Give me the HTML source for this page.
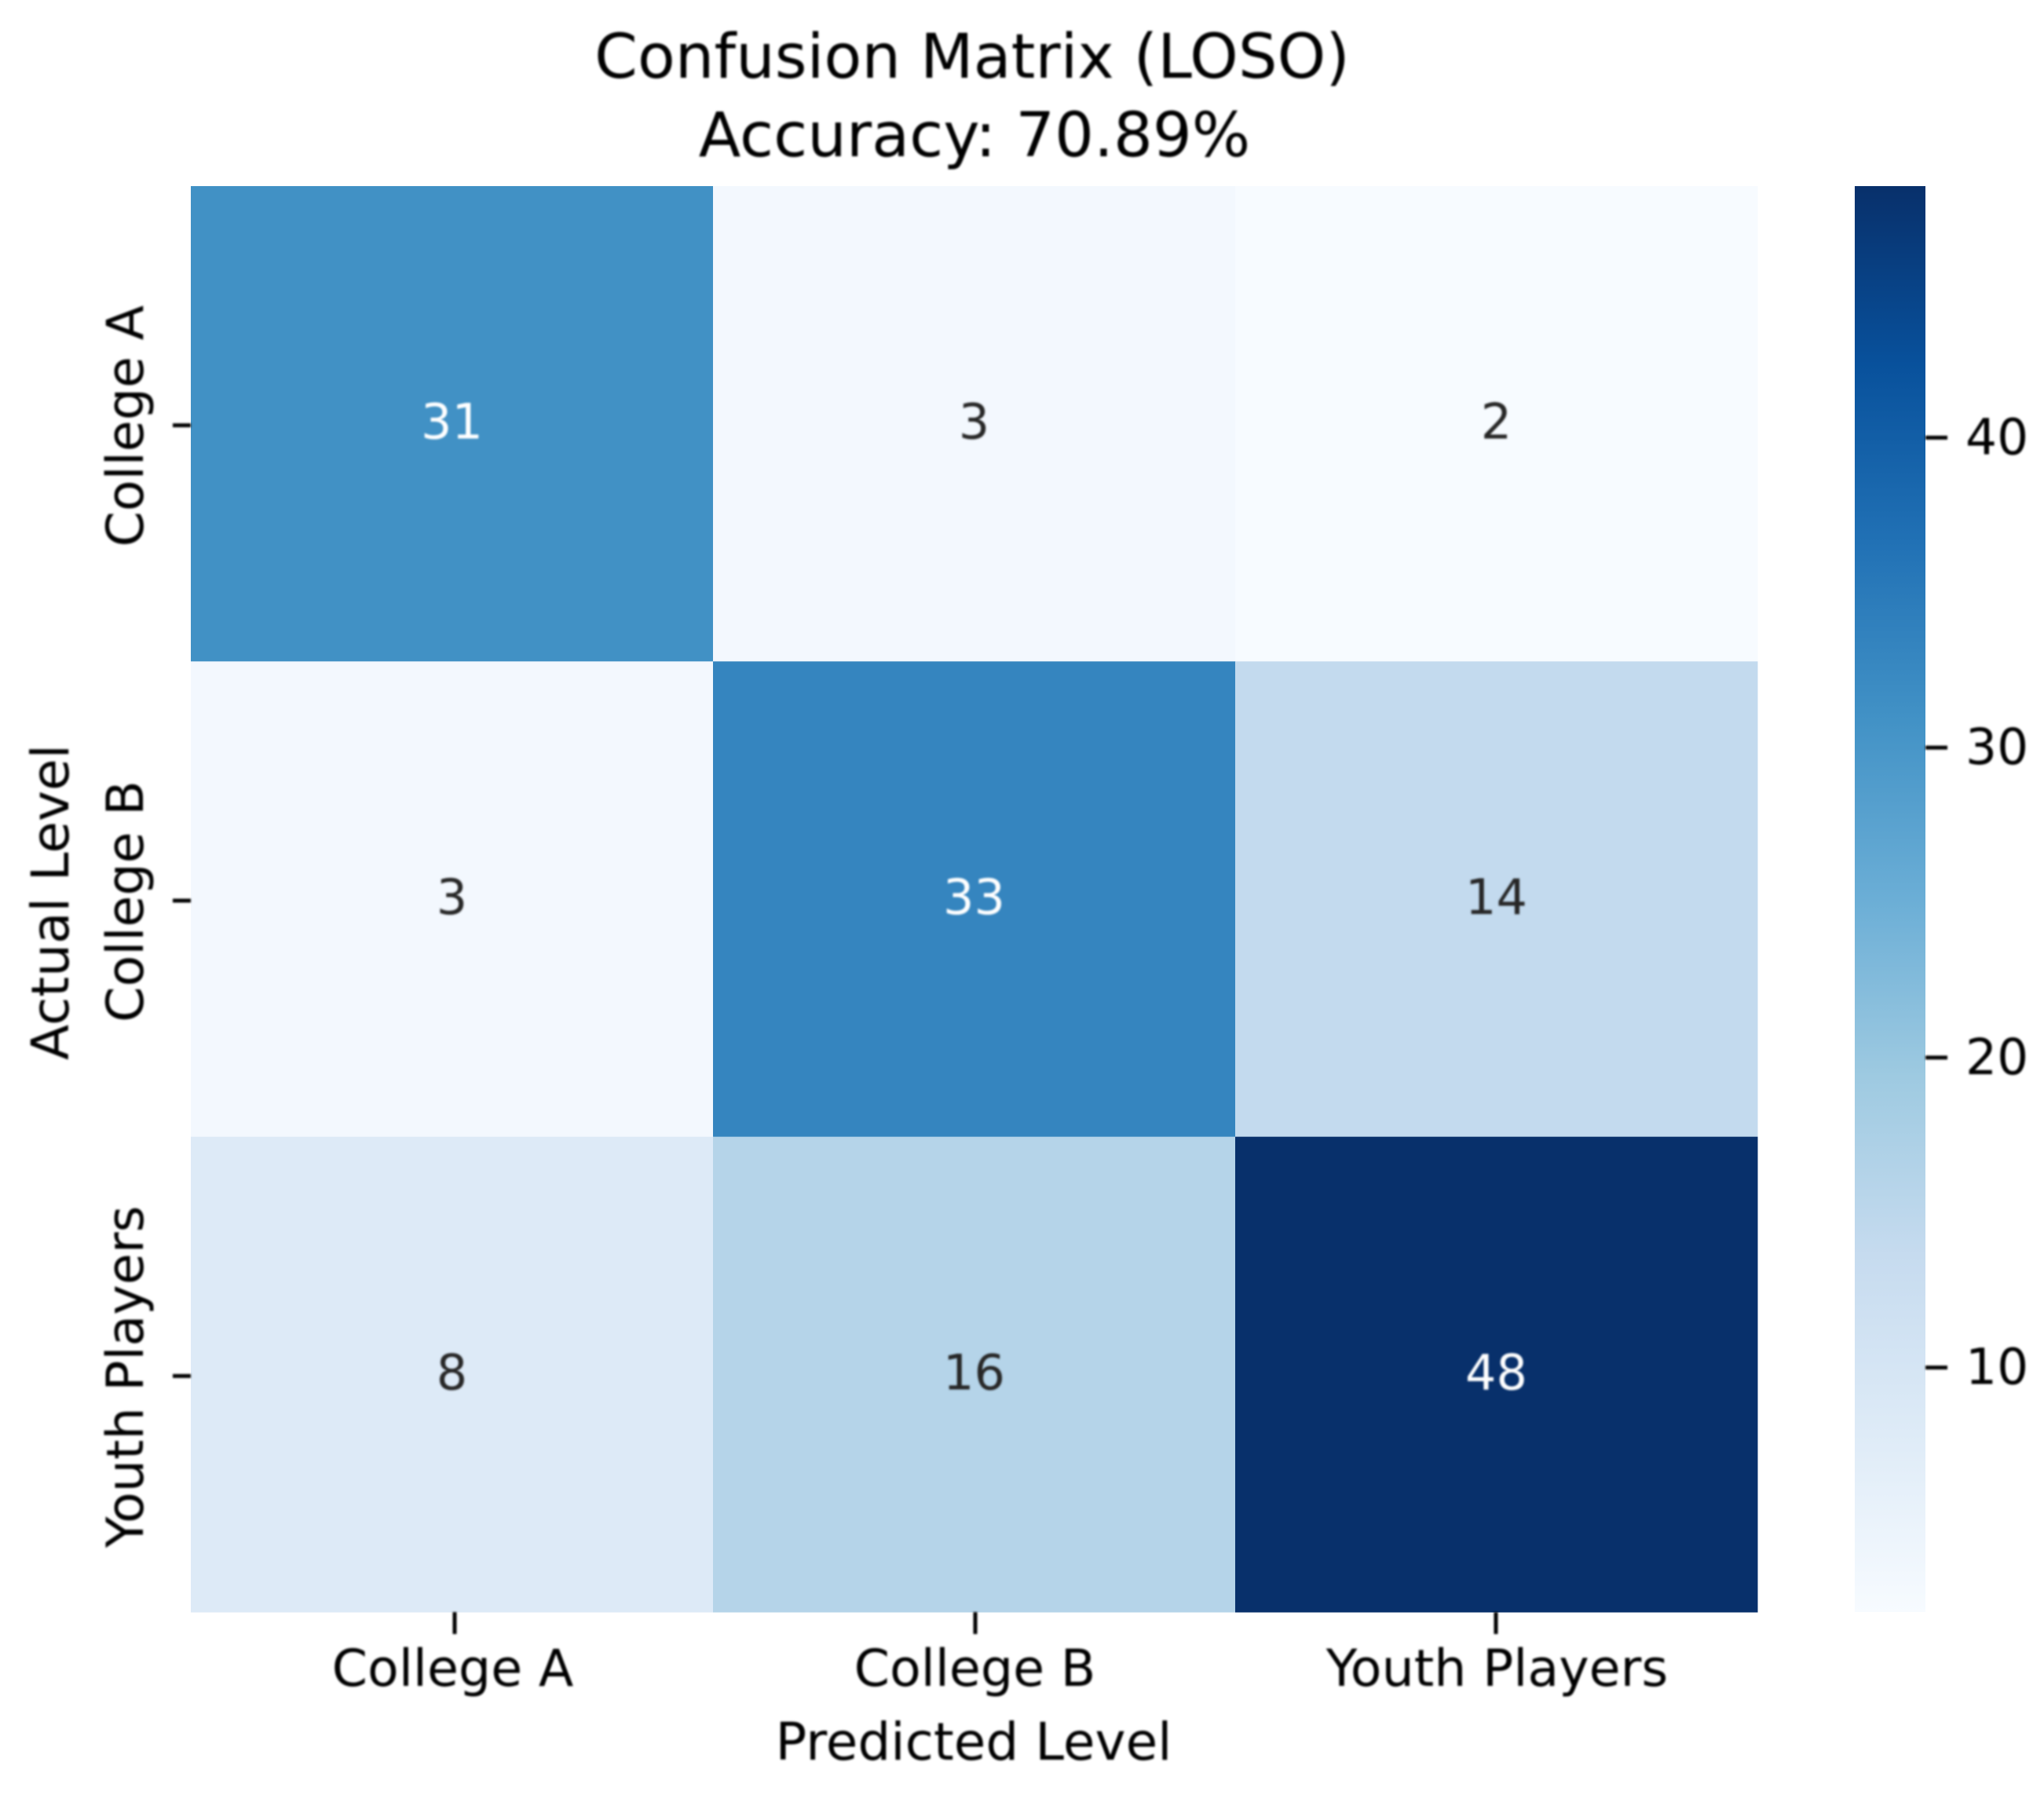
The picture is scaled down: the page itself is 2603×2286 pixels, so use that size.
<!DOCTYPE html>
<html lang="en">
<head>
<meta charset="utf-8">
<title>Confusion Matrix (LOSO)</title>
<style>
html,body{margin:0;padding:0;background:#fff;width:2603px;height:2286px;overflow:hidden}
svg{display:block}
text{font-family:"DejaVu Sans","Liberation Sans",sans-serif;fill:#000}
</style>
</head>
<body>
<svg id="chart" xmlns="http://www.w3.org/2000/svg" width="2603" height="2286" viewBox="0 0 2603 2286">
  <defs>
    <filter id="soft" x="-5%" y="-5%" width="110%" height="110%"><feGaussianBlur stdDeviation="1.2"/></filter>
    <linearGradient id="blues-gradient" x1="0" y1="1" x2="0" y2="0"></linearGradient>
  </defs>
  <rect width="2603" height="2286" fill="#ffffff"/>
  <g id="cells"></g>
  <rect id="colorbar" fill="url(#blues-gradient)"/>
  <g id="overlay" filter="url(#soft)">
    <text x="1238" y="99" font-size="78.4" text-anchor="middle">Confusion Matrix (LOSO)</text>
    <text x="1241" y="199" font-size="78.4" text-anchor="middle">Accuracy: 70.89%</text>
    <text x="1240" y="2241" font-size="66" text-anchor="middle">Predicted Level</text>
    <text transform="translate(87 1149) rotate(-90)" font-size="66" text-anchor="middle">Actual Level</text>
  </g>
</svg>
<script>
var categories = ["College A", "College B", "Youth Players"];
var matrixValues = [
  [31, 3, 2],
  [3, 33, 14],
  [8, 16, 48]
];
var colorbarTicks = [10, 20, 30, 40];
var colorMin = 2;
var colorMax = 48;

var bluesStops = ["#f7fbff","#deebf7","#c6dbef","#9ecae1","#6baed6","#4292c6","#2171b5","#08519c","#08306b"];
var NS = "http://www.w3.org/2000/svg";
var plot = {left: 243, right: 2238, top: 237, bottom: 2053};
var bar = {left: 2362, right: 2452, top: 237, bottom: 2053};

function xBand(i) { return plot.left + i * (plot.right - plot.left) / categories.length; }
function yBand(i) { return plot.top + i * (plot.bottom - plot.top) / categories.length; }
function xTick(i) { return 1242 + (i - (categories.length - 1) / 2) * 663; }
function barY(v) { return bar.bottom - (v - colorMin) / (colorMax - colorMin) * (bar.bottom - bar.top); }
function hex(c) { return [1, 3, 5].map(function (k) { return parseInt(c.substr(k, 2), 16); }); }
function blues(v) {
  var t = Math.max(0, Math.min(1, (v - colorMin) / (colorMax - colorMin))) * (bluesStops.length - 1);
  var i = Math.min(Math.floor(t), bluesStops.length - 2);
  var a = hex(bluesStops[i]), b = hex(bluesStops[i + 1]), f = t - i;
  return "rgb(" + a.map(function (x, k) { return Math.round(x + (b[k] - x) * f); }).join(",") + ")";
}
function make(tag, attrs, parent) {
  var el = document.createElementNS(NS, tag);
  Object.keys(attrs).forEach(function (k) { el.setAttribute(k, attrs[k]); });
  parent.appendChild(el);
  return el;
}

var cells = document.getElementById("cells");
var overlay = document.getElementById("overlay");

matrixValues.forEach(function (row, r) {
  row.forEach(function (v, c) {
    var cell = make("rect", {
      x: xBand(c), y: yBand(r),
      width: xBand(c + 1) - xBand(c) + 0.5,
      height: yBand(r + 1) - yBand(r) + 0.5,
      fill: blues(v)
    }, cells);
    
    

    var isDark = (v - colorMin) / (colorMax - colorMin) > 0.5;
    var label = make("text", {
      x: (xBand(c) + xBand(c + 1)) / 2,
      y: (yBand(r) + yBand(r + 1)) / 2 + 19,
      "font-size": 62,
      "text-anchor": "middle"
    }, overlay);
    label.style.fill = isDark ? "#ffffff" : "#262626";
    label.textContent = v;
    
    
  });
});

categories.forEach(function (name, i) {
  var cx = xTick(i);
  var bandX = (xBand(i) + xBand(i + 1)) / 2;
  var cy = (yBand(i) + yBand(i + 1)) / 2 + 2;

  var xt = make("line", {x1: cx, x2: cx, y1: plot.bottom, y2: plot.bottom + 28, stroke: "#000", "stroke-width": 5}, overlay);
  
  

  var xl = make("text", {x: bandX + 1, y: 2147, "font-size": 65, "text-anchor": "middle"}, overlay);
  xl.textContent = name;
  
  

  var yt = make("line", {x1: plot.left - 23, x2: plot.left, y1: cy, y2: cy, stroke: "#000", "stroke-width": 5}, overlay);
  
  

  var yl = make("text", {transform: "translate(182 " + (cy + 1) + ") rotate(-90)", "font-size": 65, "text-anchor": "middle"}, overlay);
  yl.textContent = name;
  
  
});

var grad = document.getElementById("blues-gradient");
bluesStops.forEach(function (c, i) {
  make("stop", {offset: i / (bluesStops.length - 1), "stop-color": c}, grad);
});
var cb = document.getElementById("colorbar");
cb.setAttribute("x", bar.left);
cb.setAttribute("y", bar.top);
cb.setAttribute("width", bar.right - bar.left);
cb.setAttribute("height", bar.bottom - bar.top);

colorbarTicks.forEach(function (v) {
  var y = barY(v) + 4.5;
  var t = make("line", {x1: bar.right, x2: bar.right + 28, y1: y, y2: y, stroke: "#000", "stroke-width": 5}, overlay);
  
  
  var l = make("text", {x: 2503, y: y + 21, "font-size": 63}, overlay);
  l.textContent = v;
  
  
});
</script>
</body>
</html>
